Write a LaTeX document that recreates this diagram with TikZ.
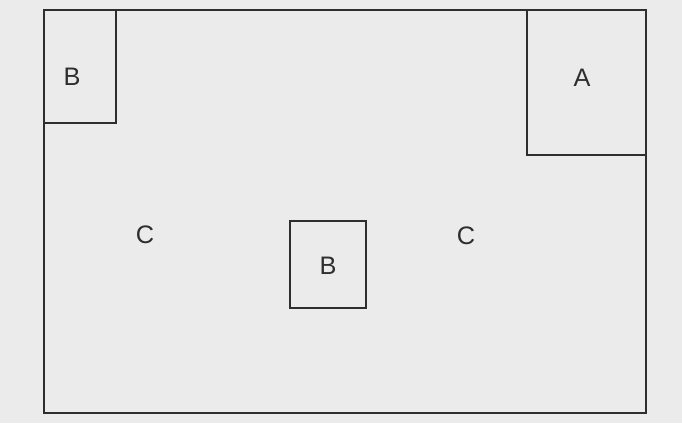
\documentclass[tikz,border=0pt]{standalone}
\usepackage{fontspec}
\setmainfont{Liberation Sans}
\definecolor{paper}{HTML}{EBEBEB}
\definecolor{ink}{HTML}{2E2E2E}

\begin{document}
\begin{tikzpicture}[x=0.025cm, y=-0.025cm,
    zone/.style={draw=ink, line width=0.9pt},
    every node/.style={inner sep=0pt, text=ink, font=\fontsize{18}{21}\selectfont}]

    \fill[paper] (0,0) rectangle (682,423);
    \useasboundingbox (0,0) rectangle (682,423);

    \draw[zone] (44,10) rectangle (646,413);
    \draw[zone] (44,10) rectangle (116,123);
    \draw[zone] (527,10) rectangle (646,155);
    \draw[zone] (290,221) rectangle (366,308);

    \node (bcorner) at (72,77) {B};
    \node (acorner) at (582,78) {A};
    \node (cleft) at (145,235) {C};
    \node (cright) at (466,236) {C};
    \node (bmiddle) at (328,266) {B};

\end{tikzpicture}
\end{document}
